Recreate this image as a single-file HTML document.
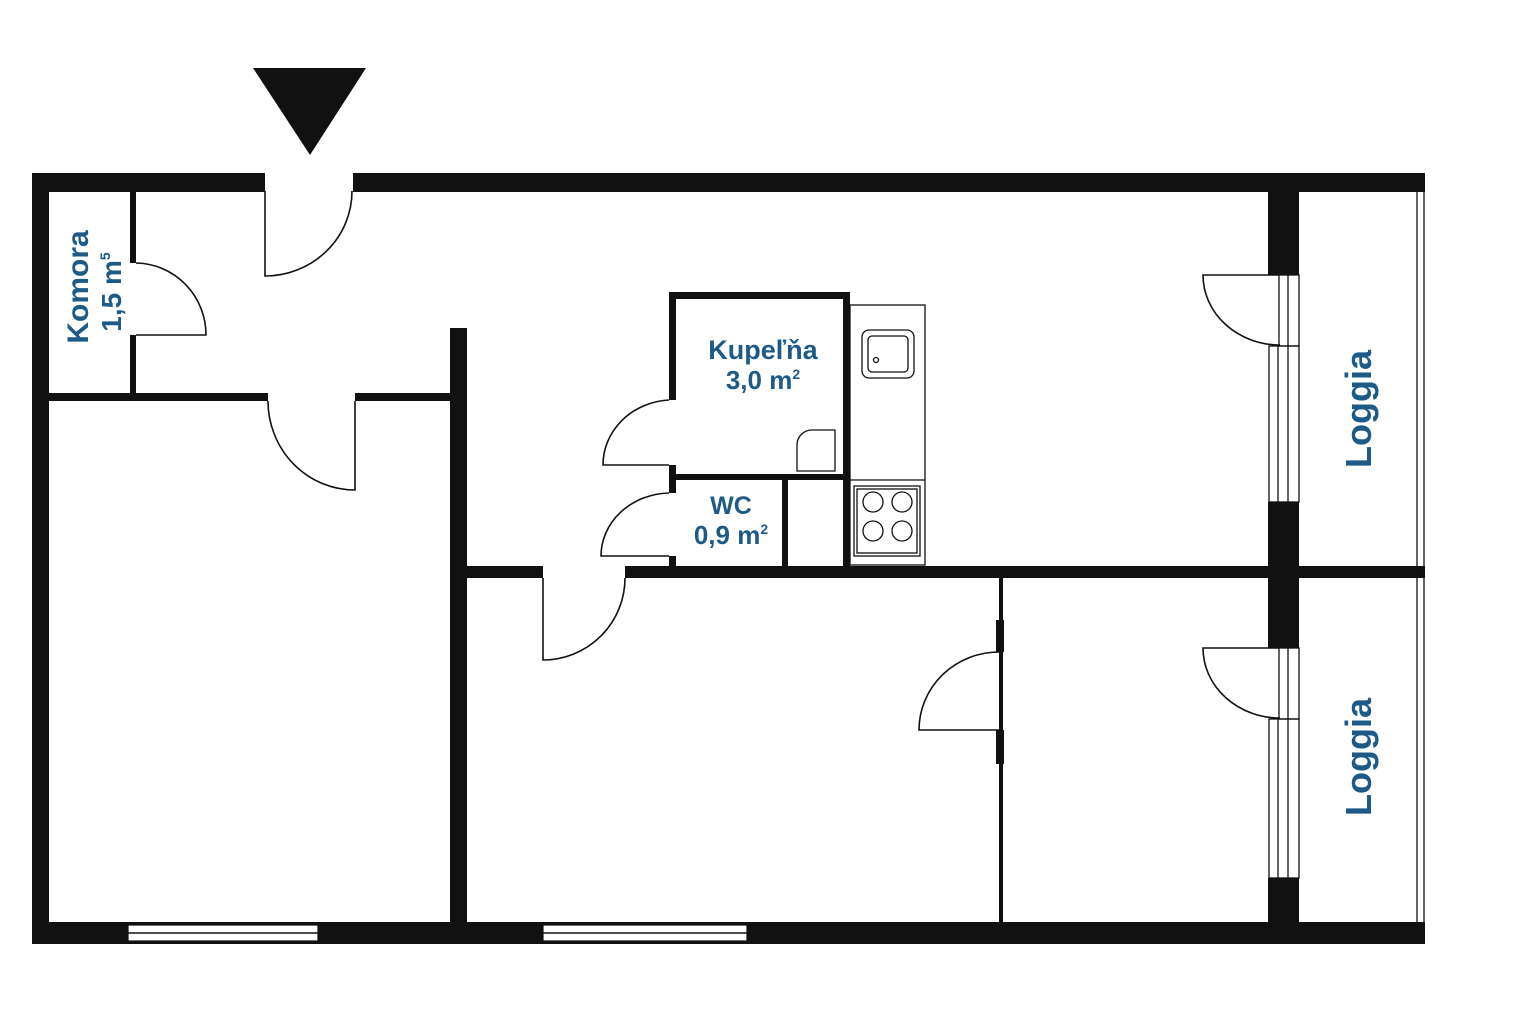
<!DOCTYPE html>
<html><head><meta charset="utf-8"><style>
html,body{margin:0;padding:0;background:#fff;width:1536px;height:1024px;overflow:hidden}
svg{display:block}
text{font-family:"Liberation Sans",sans-serif;fill:#1d5a87;font-weight:bold}
</style></head><body>
<svg width="1536" height="1024" viewBox="0 0 1536 1024" xmlns="http://www.w3.org/2000/svg">
<rect width="1536" height="1024" fill="#fff"/>
<polygon points="253,68 366,68 310,155" fill="#111"/>
<g fill="#111">
<rect x="32" y="173" width="233" height="19"/>
<rect x="353" y="173" width="1072" height="19"/>
<rect x="32" y="173" width="17" height="771"/>
<rect x="32" y="922" width="1393" height="22"/>
<rect x="130" y="191" width="6" height="72"/>
<rect x="130" y="335" width="6" height="62"/>
<rect x="49" y="393" width="219" height="8"/>
<rect x="355" y="393" width="100" height="8"/>
<rect x="450" y="328" width="17" height="600"/>
<rect x="467" y="566" width="76" height="12"/>
<rect x="625" y="566" width="800" height="12"/>
<rect x="1268" y="191" width="31" height="84"/>
<rect x="1268" y="502" width="31" height="146"/>
<rect x="1268" y="878" width="31" height="50"/>
<rect x="999" y="578" width="4" height="362"/>
<rect x="996" y="620" width="8" height="32"/>
<rect x="996" y="730" width="8" height="34"/>
<rect x="669" y="292" width="180" height="7"/>
<rect x="669" y="292" width="7" height="108"/>
<rect x="669" y="465" width="7" height="28"/>
<rect x="669" y="556" width="7" height="12"/>
<rect x="843" y="292" width="7" height="276"/>
<rect x="669" y="474" width="180" height="6"/>
<rect x="782" y="480" width="6" height="88"/>
</g>
<g fill="#fff" stroke="#111" stroke-width="1.2">
<rect x="128" y="925" width="190" height="16"/>
<rect x="543" y="925" width="204" height="16"/>
</g>
<line x1="128" y1="933" x2="318" y2="933" stroke="#111" stroke-width="1.5"/>
<line x1="543" y1="933" x2="747" y2="933" stroke="#111" stroke-width="1.5"/>
<g fill="none" stroke="#111" stroke-width="1.6">
<path d="M265 191 V276 A87 85 0 0 0 352 191"/>
<path d="M136 263 A71 72 0 0 1 206 335 H136"/>
<path d="M268 401 A87 89 0 0 0 355 490 V401"/>
<path d="M543 578 V660 A82 82 0 0 0 625 578"/>
<path d="M669 400 A70 65 0 0 0 603 465 H669"/>
<path d="M669 493 A70 63 0 0 0 601 556 H669"/>
<path d="M999 652 A80 78 0 0 0 919 730 H999"/>
<path d="M1279 275 H1203 A77 70 0 0 0 1280 345"/>
<path d="M1279 648 H1203 A77 70 0 0 0 1280 718"/>
</g>
<g fill="none" stroke="#111" stroke-width="1.3">
<rect x="1279" y="275" width="20" height="71"/><line x1="1288" y1="275" x2="1288" y2="346"/>
<rect x="1269" y="346" width="30" height="156"/><line x1="1278" y1="346" x2="1278" y2="502"/><line x1="1288" y1="346" x2="1288" y2="502"/>
<rect x="1279" y="648" width="20" height="71"/><line x1="1288" y1="648" x2="1288" y2="719"/>
<rect x="1269" y="719" width="30" height="159"/><line x1="1278" y1="719" x2="1278" y2="878"/><line x1="1288" y1="719" x2="1288" y2="878"/>
<line x1="1417" y1="191" x2="1417" y2="922"/>
<line x1="1424" y1="191" x2="1424" y2="922"/>
<path d="M797 471 V445 A15 15 0 0 1 812 430 H835 V471 Z"/>
<rect x="850" y="305" width="75" height="260"/>
<line x1="850" y1="480" x2="925" y2="480"/>
<rect x="862" y="330" width="52" height="48" rx="7"/>
<rect x="868" y="336" width="40" height="36" rx="4"/>
<circle cx="876" cy="360" r="2.5"/>
<rect x="854" y="486" width="66" height="70"/>
<rect x="857" y="489" width="60" height="64"/>
<circle cx="873" cy="502" r="10"/><circle cx="902" cy="502" r="10"/>
<circle cx="873" cy="531" r="10"/><circle cx="902" cy="531" r="10"/>
</g>
<text x="763" y="359" font-size="27" text-anchor="middle">Kupeľňa</text>
<text x="763" y="389" font-size="26" text-anchor="middle">3,0 m<tspan font-size="14" dy="-10">2</tspan></text>
<text x="731" y="514" font-size="25" text-anchor="middle">WC</text>
<text x="731" y="544" font-size="26" text-anchor="middle">0,9 m<tspan font-size="14" dy="-10">2</tspan></text>
<text transform="translate(88,287) rotate(-90)" font-size="30" text-anchor="middle">Komora</text>
<text transform="translate(121,292) rotate(-90)" font-size="28" text-anchor="middle">1,5 m<tspan font-size="14" dy="-11">5</tspan></text>
<text transform="translate(1371,409) rotate(-90)" font-size="36" text-anchor="middle">Loggia</text>
<text transform="translate(1371,757) rotate(-90)" font-size="36" text-anchor="middle">Loggia</text>
</svg>
</body></html>
